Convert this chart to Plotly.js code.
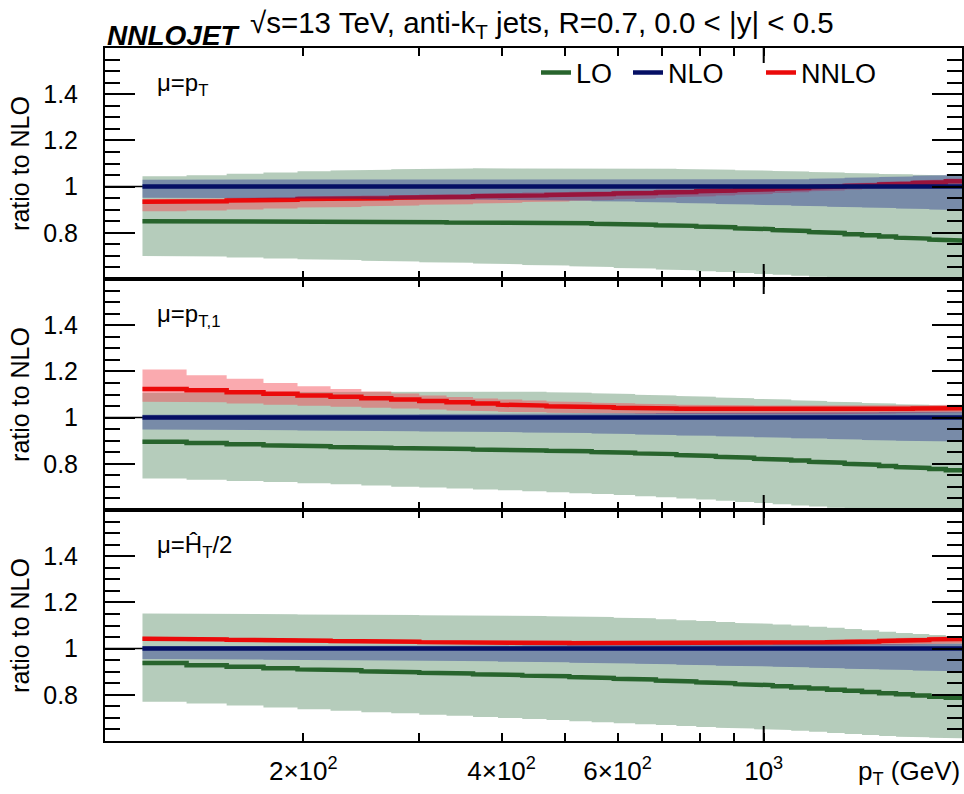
<!DOCTYPE html>
<html>
<head>
<meta charset="utf-8">
<script src="https://cdn.plot.ly/plotly-3.0.1.min.js"></script>
<style>html,body{margin:0;padding:0;background:#fff;}#chart{width:964px;height:794px;}</style>
</head>
<body>
<div id="chart"></div>
<script>
// pT bin edges (GeV)
const edges = [114,133,153,174,196,220,245,272,300,330,362,395,430,468,507,548,592,638,686,737,790,846,905,967,1032,1101,1172,1248,1327,1410,1497,1588,1684,1784,1890,2000];

// x tick labels
const xTickVals = [200,400,600,1000];
const xTickText = ['2×10<sup>2</sup>','4×10<sup>2</sup>','6×10<sup>2</sup>','10<sup>3</sup>'];
const xMinorVals = [300,500,700,800,900];
const yTickVals = [0.8,1,1.2,1.4];
const yTickText = ['0.8','1','1.2','1.4'];

// NLO central (ratio to itself)
const nloC = [1,1,1,1,1,1,1,1,1,1,1,1,1,1,1,1,1,1,1,1,1,1,1,1,1,1,1,1,1,1,1,1,1,1,1];

// ---- Panel 1: mu = pT ----
const loC1  = [0.850,0.850,0.849,0.849,0.848,0.848,0.847,0.847,0.846,0.845,0.845,0.844,0.843,0.842,0.841,0.839,0.837,0.835,0.833,0.830,0.827,0.824,0.820,0.816,0.812,0.808,0.803,0.799,0.794,0.789,0.784,0.779,0.775,0.771,0.767];
const loHi1 = [1.045,1.049,1.056,1.061,1.066,1.070,1.073,1.075,1.077,1.078,1.079,1.080,1.080,1.080,1.080,1.080,1.079,1.078,1.077,1.076,1.075,1.073,1.071,1.069,1.067,1.065,1.063,1.061,1.059,1.057,1.055,1.053,1.051,1.049,1.047];
const loLo1 = [0.700,0.697,0.693,0.689,0.685,0.682,0.679,0.676,0.673,0.670,0.667,0.664,0.661,0.658,0.655,0.652,0.648,0.645,0.641,0.638,0.634,0.630,0.626,0.622,0.618,0.614,0.610,0.606,0.602,0.598,0.594,0.590,0.586,0.582,0.578];
const nloHi1 = [1.030,1.030,1.030,1.030,1.030,1.030,1.030,1.030,1.030,1.030,1.030,1.030,1.030,1.030,1.030,1.030,1.030,1.030,1.030,1.030,1.030,1.030,1.030,1.031,1.031,1.032,1.034,1.036,1.038,1.040,1.042,1.044,1.047,1.049,1.052];
const nloLo1 = [0.952,0.951,0.950,0.949,0.948,0.947,0.946,0.946,0.945,0.944,0.943,0.942,0.941,0.940,0.939,0.937,0.935,0.933,0.931,0.929,0.927,0.925,0.923,0.921,0.919,0.917,0.915,0.913,0.911,0.909,0.907,0.905,0.903,0.901,0.899];
const nnloC1  = [0.934,0.937,0.940,0.943,0.946,0.948,0.950,0.952,0.954,0.956,0.958,0.960,0.962,0.964,0.966,0.968,0.970,0.972,0.975,0.977,0.980,0.983,0.985,0.988,0.991,0.994,0.997,1.000,1.003,1.006,1.009,1.012,1.016,1.019,1.023];
const nnloHi1 = [0.946,0.949,0.952,0.955,0.958,0.960,0.962,0.964,0.966,0.968,0.970,0.972,0.974,0.976,0.978,0.980,0.982,0.984,0.987,0.989,0.992,0.995,0.997,1.000,1.003,1.006,1.009,1.012,1.015,1.018,1.021,1.024,1.028,1.031,1.035];
const nnloLo1 = [0.893,0.897,0.901,0.905,0.909,0.912,0.915,0.918,0.921,0.924,0.927,0.930,0.933,0.936,0.939,0.942,0.945,0.948,0.952,0.955,0.958,0.962,0.965,0.968,0.972,0.976,0.980,0.983,0.987,0.991,0.994,0.998,1.002,1.006,1.010];

// ---- Panel 2: mu = pT,1 ----
const loC2  = [0.895,0.890,0.885,0.880,0.876,0.873,0.870,0.868,0.866,0.864,0.862,0.860,0.858,0.856,0.854,0.851,0.848,0.845,0.842,0.838,0.834,0.830,0.826,0.822,0.818,0.814,0.809,0.805,0.800,0.796,0.791,0.786,0.782,0.777,0.772];
const loHi2 = [1.107,1.109,1.111,1.112,1.113,1.114,1.114,1.114,1.114,1.114,1.114,1.113,1.112,1.110,1.108,1.105,1.102,1.099,1.096,1.093,1.090,1.087,1.084,1.081,1.078,1.075,1.072,1.069,1.066,1.063,1.061,1.058,1.056,1.054,1.052];
const loLo2 = [0.736,0.731,0.726,0.721,0.716,0.711,0.706,0.701,0.697,0.693,0.689,0.685,0.681,0.677,0.673,0.669,0.665,0.660,0.655,0.650,0.645,0.640,0.635,0.630,0.625,0.620,0.615,0.610,0.605,0.600,0.595,0.590,0.585,0.580,0.575];
const nloHi2 = [1.012,1.012,1.013,1.013,1.014,1.014,1.015,1.015,1.016,1.016,1.017,1.017,1.018,1.018,1.018,1.019,1.019,1.019,1.020,1.020,1.020,1.021,1.021,1.021,1.022,1.022,1.022,1.023,1.023,1.023,1.024,1.024,1.024,1.025,1.025];
const nloLo2 = [0.948,0.947,0.946,0.945,0.944,0.943,0.942,0.941,0.940,0.939,0.938,0.937,0.935,0.934,0.933,0.931,0.929,0.927,0.925,0.923,0.921,0.919,0.917,0.915,0.913,0.911,0.909,0.907,0.905,0.903,0.901,0.900,0.899,0.898,0.897];
const nnloC2  = [1.124,1.118,1.110,1.103,1.096,1.090,1.084,1.078,1.072,1.066,1.061,1.056,1.052,1.049,1.047,1.045,1.043,1.041,1.039,1.038,1.037,1.036,1.035,1.035,1.034,1.034,1.034,1.034,1.035,1.036,1.037,1.038,1.039,1.040,1.041];
const nnloHi2 = [1.208,1.183,1.168,1.150,1.136,1.124,1.113,1.104,1.096,1.089,1.083,1.078,1.074,1.070,1.067,1.064,1.062,1.060,1.058,1.056,1.055,1.054,1.053,1.052,1.052,1.051,1.051,1.051,1.051,1.052,1.052,1.053,1.054,1.055,1.056];
const nnloLo2 = [1.069,1.066,1.061,1.056,1.051,1.047,1.043,1.039,1.035,1.031,1.028,1.025,1.023,1.021,1.020,1.019,1.018,1.017,1.016,1.015,1.015,1.014,1.014,1.014,1.014,1.014,1.014,1.015,1.016,1.017,1.018,1.019,1.020,1.021,1.022];

// ---- Panel 3: mu = HT/2 ----
const loC3  = [0.938,0.928,0.921,0.915,0.910,0.906,0.902,0.898,0.895,0.892,0.889,0.886,0.883,0.880,0.877,0.873,0.869,0.866,0.862,0.858,0.854,0.850,0.846,0.842,0.837,0.832,0.827,0.822,0.817,0.812,0.807,0.802,0.797,0.792,0.787];
const loHi3 = [1.152,1.151,1.150,1.149,1.148,1.147,1.146,1.145,1.144,1.143,1.143,1.142,1.141,1.140,1.139,1.137,1.134,1.131,1.127,1.123,1.119,1.115,1.111,1.108,1.104,1.100,1.095,1.090,1.085,1.079,1.073,1.068,1.063,1.059,1.055];
const loLo3 = [0.770,0.762,0.754,0.745,0.737,0.731,0.725,0.720,0.714,0.709,0.704,0.700,0.695,0.691,0.686,0.681,0.677,0.673,0.669,0.665,0.661,0.657,0.654,0.651,0.648,0.644,0.640,0.635,0.630,0.626,0.622,0.618,0.616,0.614,0.612];
const nloHi3 = [1.010,1.010,1.010,1.011,1.011,1.011,1.012,1.012,1.012,1.013,1.013,1.013,1.014,1.014,1.014,1.015,1.015,1.015,1.016,1.016,1.016,1.017,1.017,1.017,1.018,1.018,1.018,1.019,1.019,1.019,1.020,1.020,1.020,1.021,1.021];
const nloLo3 = [0.955,0.954,0.953,0.952,0.951,0.950,0.949,0.948,0.947,0.946,0.945,0.943,0.942,0.941,0.939,0.938,0.936,0.934,0.932,0.930,0.928,0.926,0.925,0.923,0.921,0.919,0.917,0.915,0.913,0.911,0.909,0.907,0.905,0.903,0.902];
const nnloC3  = [1.043,1.040,1.038,1.036,1.034,1.033,1.031,1.030,1.028,1.027,1.026,1.025,1.024,1.024,1.023,1.023,1.023,1.023,1.023,1.023,1.023,1.023,1.024,1.024,1.025,1.026,1.027,1.028,1.030,1.031,1.033,1.035,1.037,1.040,1.042];
const nnloHi3 = [1.051,1.048,1.046,1.044,1.042,1.041,1.039,1.038,1.036,1.035,1.034,1.033,1.032,1.032,1.031,1.031,1.031,1.031,1.031,1.032,1.032,1.032,1.033,1.033,1.034,1.035,1.036,1.038,1.040,1.041,1.043,1.046,1.048,1.051,1.054];
const nnloLo3 = [1.035,1.032,1.030,1.028,1.026,1.025,1.023,1.022,1.020,1.019,1.018,1.017,1.016,1.016,1.015,1.015,1.015,1.015,1.015,1.014,1.014,1.014,1.014,1.014,1.014,1.014,1.014,1.014,1.015,1.016,1.017,1.018,1.019,1.021,1.022];

const scaleLabels = ['μ=p<sub>T</sub>','μ=p<sub>T,1</sub>','μ=Ĥ<sub>T</sub>/2'];

const colors = {
  loBand:'rgba(60,120,75,0.38)', loLine:'rgb(40,100,45)',
  nnloBand:'rgba(244,70,81,0.46)', nnloLine:'rgb(235,10,10)',
  nloBand:'rgba(24,37,140,0.39)', nloLine:'rgb(5,15,100)'
};

function stepXY(vals){
  const x=[], y=[];
  for(let i=0;i<vals.length;i++){ x.push(edges[i],edges[i+1]); y.push(vals[i],vals[i]); }
  return {x,y};
}
function bandXY(lo,hi){
  const u=stepXY(hi), l=stepXY(lo);
  return {x:u.x.concat(l.x.slice().reverse()), y:u.y.concat(l.y.slice().reverse())};
}

const panels = [
  {lo:[loLo1,loC1,loHi1], nlo:[nloLo1,nloC,nloHi1], nnlo:[nnloLo1,nnloC1,nnloHi1]},
  {lo:[loLo2,loC2,loHi2], nlo:[nloLo2,nloC,nloHi2], nnlo:[nnloLo2,nnloC2,nnloHi2]},
  {lo:[loLo3,loC3,loHi3], nlo:[nloLo3,nloC,nloHi3], nnlo:[nnloLo3,nnloC3,nnloHi3]}
];

const traces=[];
panels.forEach((p,k)=>{
  const xa = k===0?'x':'x'+(k+1), ya = k===0?'y':'y'+(k+1);
  const first = k===0;
  const band=(d,c)=>{const b=bandXY(d[0],d[2]); return {x:b.x,y:b.y,xaxis:xa,yaxis:ya,type:'scatter',mode:'lines',fill:'toself',fillcolor:c,line:{width:0},hoverinfo:'skip',showlegend:false};};
  const line=(d,c,name,lg,rank)=>{const s=stepXY(d[1]); return {x:s.x,y:s.y,xaxis:xa,yaxis:ya,type:'scatter',mode:'lines',line:{color:c,width:4.5},name:name,showlegend:first,legend:lg,legendrank:rank};};
  traces.push(band(p.lo,colors.loBand));
  traces.push(line(p.lo,colors.loLine,'LO','legend',1));
  traces.push(band(p.nnlo,colors.nnloBand));
  traces.push(line(p.nnlo,colors.nnloLine,'NNLO','legend3',3));
  traces.push(band(p.nlo,colors.nloBand));
  traces.push(line(p.nlo,colors.nloLine,'NLO','legend2',2));
});

const font = 'Liberation Sans, Arial, sans-serif';
const X = px => (px-105)/857;
const Y = py => (741-py)/693;

function xAxis(labels){
  return {type:'log', range:[2, Math.log10(2000)], tickmode:'array', tickvals:xTickVals, ticktext:xTickText,
    ticks:'inside', ticklen:8, tickwidth:2, tickcolor:'black', showline:true, linewidth:2, linecolor:'black',
    minor:{tickvals:xMinorVals, ticks:'inside', ticklen:8, tickwidth:2, tickcolor:'black'},
    mirror:'allticks', showgrid:false, zeroline:false, showticklabels:labels, tickfont:{size:26,color:'black'},
    ticklabelstandoff:6, fixedrange:true};
}
function yAxis(dom){
  return {domain:dom, range:[0.6,1.6], tickmode:'array', tickvals:yTickVals, ticktext:yTickText,
    ticks:'inside', ticklen:30, tickwidth:2, tickcolor:'black', showline:true, linewidth:2, linecolor:'black',
    mirror:'allticks', showgrid:false, zeroline:false, tickfont:{size:25,color:'black'}, ticklabelstandoff:20,
    minor:{tickmode:'linear', tick0:0.6, dtick:0.05, ticks:'inside', ticklen:15, tickwidth:2, tickcolor:'black'},
    title:{text:'ratio to NLO', font:{size:25,color:'black'}, standoff:6}, automargin:false, fixedrange:true};
}

const shapes=[];
['y','y2','y3'].forEach(ya=>{
  shapes.push({type:'line', xref:'paper', x0:0, x1:1, yref:ya, y0:1, y1:1, line:{color:'black',width:1.5}, layer:'below'});
});
['x','x2','x3'].forEach((xa,i)=>{
  const yd = (i===0?'y':'y'+(i+1))+' domain';
  shapes.push({type:'line', xref:xa, x0:1000, x1:1000, yref:yd, y0:0, y1:0.065, line:{color:'black',width:2}});
  shapes.push({type:'line', xref:xa, x0:1000, x1:1000, yref:yd, y0:1, y1:0.935, line:{color:'black',width:2}});
});

const annotations = [
  {text:'<b><i>NNLOJET</i></b>', xref:'paper', yref:'paper', x:X(105), y:Y(35), xanchor:'left', yanchor:'middle', showarrow:false, font:{size:28,color:'black'}},
  {text:'√s=13 TeV, anti-k<sub>T</sub> jets, R=0.7, 0.0 &lt; |y| &lt; 0.5', xref:'paper', yref:'paper', x:X(248), y:Y(25), xanchor:'left', yanchor:'middle', showarrow:false, font:{size:29.5,color:'black'}},
  {text:'p<sub>T</sub> (GeV)', xref:'paper', yref:'paper', x:X(962), y:Y(772), xanchor:'right', yanchor:'middle', showarrow:false, font:{size:26,color:'black'}}
];
scaleLabels.forEach((t,k)=>{
  annotations.push({text:t, xref:'paper', yref:'paper', x:X(155), y:Y(84+231*k), xanchor:'left', yanchor:'middle', showarrow:false, font:{size:24,color:'black'}});
});

const legendBase = (px)=>({x:X(px), y:Y(73), xanchor:'left', yanchor:'middle', orientation:'h', bgcolor:'rgba(0,0,0,0)', font:{size:27,color:'black'}, borderwidth:0});

const layout = {
  width:964, height:794, margin:{l:105, r:2, t:48, b:53},
  paper_bgcolor:'white', plot_bgcolor:'white',
  font:{family:font, color:'black'},
  xaxis: Object.assign(xAxis(false), {anchor:'y'}),
  xaxis2: Object.assign(xAxis(false), {anchor:'y2', matches:'x'}),
  xaxis3: Object.assign(xAxis(true), {anchor:'y3', matches:'x'}),
  yaxis: Object.assign(yAxis([2/3,1]), {anchor:'x'}),
  yaxis2: Object.assign(yAxis([1/3,2/3]), {anchor:'x2'}),
  yaxis3: Object.assign(yAxis([0,1/3]), {anchor:'x3'}),
  legend: legendBase(536),
  legend2: legendBase(628),
  legend3: legendBase(761),
  shapes: shapes,
  annotations: annotations
};

Plotly.newPlot('chart', traces, layout, {displayModeBar:false, staticPlot:true});
</script>
</body>
</html>
